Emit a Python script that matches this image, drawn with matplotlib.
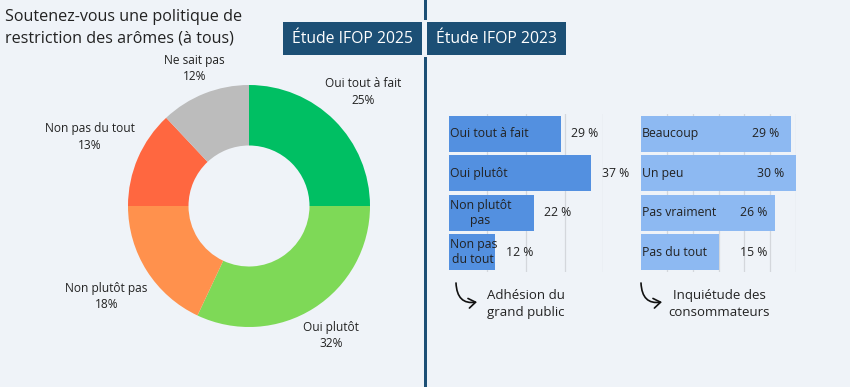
import matplotlib
matplotlib.use("Agg")
import matplotlib.pyplot as plt
import numpy as np
from matplotlib.patches import FancyArrowPatch, Rectangle
from matplotlib.path import Path

plt.rcParams['font.family'] = ['Open Sans', 'DejaVu Sans']

# ---- data ----
pie_labels = ["Oui tout à fait", "Oui plutôt", "Non plutôt pas", "Non pas du tout", "Ne sait pas"]
pie_values = [25, 32, 18, 13, 12]
pie_colors = ["#00bf63", "#7ed957", "#ff914d", "#ff6740", "#bcbcbc"]

adh_labels = ["Oui tout à fait", "Oui plutôt", "Non plutôt\npas", "Non pas\ndu tout"]
adh_values = [29, 37, 22, 12]

inq_labels = ["Beaucoup", "Un peu", "Pas vraiment", "Pas du tout"]
inq_values = [29, 30, 26, 15]

title = "Soutenez-vous une politique de\nrestriction des arômes (à tous)"
box1 = "Étude IFOP 2025"
box2 = "Étude IFOP 2023"
cap1 = "Adhésion du\ngrand public"
cap2 = "Inquiétude des\nconsommateurs"

BG = "#eff3f8"
DARK = "#1c4f75"
TXT = "#222222"
W, H = 850, 387

fig = plt.figure(figsize=(8.5, 3.87), dpi=100)
fig.patch.set_facecolor(BG)

def fx(x): return x / W
def fy(y): return 1 - y / H
def ax_px(x0, y0, x1, y1):
    return fig.add_axes([fx(x0), fy(y1), (x1 - x0) / W, (y1 - y0) / H])

# vertical divider
fig.add_artist(Rectangle((fx(424), 0), 3 / W, 1, transform=fig.transFigure,
                         color=DARK, lw=0, zorder=1))
# gap around boxes on divider
fig.add_artist(Rectangle((fx(422), fy(57)), 5 / W, 37 / H, transform=fig.transFigure,
                         color=BG, lw=0, zorder=2))
# header boxes
for (x0, x1, txt) in [(283, 422, box1), (427, 566, box2)]:
    fig.add_artist(Rectangle((fx(x0), fy(55)), (x1 - x0) / W, 33 / H,
                             transform=fig.transFigure, color=DARK, lw=0, zorder=3))
    fig.text(fx((x0 + x1) / 2), fy(39), txt, color="white", fontsize=11.3,
             ha="center", va="center", zorder=4)

fig.text(fx(5), fy(28), title, fontsize=11.6, color=TXT, ha="left", va="center", linespacing=1.45)

# ---- donut ----
axp = ax_px(128, 85, 370, 327)
axp.set_facecolor("none")
wedges, _ = axp.pie(pie_values, colors=pie_colors, startangle=90, counterclock=False,
                    radius=1, wedgeprops=dict(width=0.5, edgecolor="none"))
axp.set_xlim(-1, 1); axp.set_ylim(-1, 1)
axp.set_aspect("equal"); axp.axis("off")
for w, lab, v in zip(wedges, pie_labels, pie_values):
    ang = np.deg2rad((w.theta1 + w.theta2) / 2)
    r = 1.18 + 0.3 * np.cos(ang) ** 2
    axp.text(r * np.cos(ang), r * np.sin(ang), f"{lab}\n{v}%", ha="center", va="center",
             fontsize=8.6, color=TXT, linespacing=1.35, clip_on=False)

# ---- bar chart helper ----
def bars(x0, x1, xmax, step, labels, values, color, label_pos):
    ax = ax_px(x0, 114, x1, 272)
    ax.set_facecolor("none")
    y = np.arange(len(values))
    ax.barh(y, values, height=0.92, color=color, zorder=2)
    ax.set_xlim(0, xmax)
    ax.set_ylim(len(values) - 0.5, -0.5)
    for t in np.arange(step, xmax + 0.01, step):
        ax.axvline(t, color="#d4d7dc", lw=0.9, zorder=1)
    for s in ax.spines.values():
        s.set_visible(False)
    ax.set_xticks([]); ax.set_yticks([])
    for yi, lab, v in zip(y, labels, values):
        if "\n" in lab:
            ax.text(0.15, yi, lab, ha="left", va="center", fontsize=8.8, color=TXT,
                    multialignment="center", linespacing=1.2, zorder=3)
        else:
            ax.text(0.15, yi, lab, ha="left", va="center", fontsize=8.8, color=TXT, zorder=3)
        xp, ha = label_pos(v)
        ax.text(xp, yi, f"{v} %", ha=ha, va="center", fontsize=8.8, color=TXT,
                zorder=3, clip_on=False)
    return ax

bars(449, 603, 40, 10, adh_labels, adh_values, "#5390e0", lambda v: (v + 2.8, "left"))
bars(641, 796, 30, 5, inq_labels, inq_values, "#8db9f2", lambda v: (max(v - 2.2, 24.5), "right"))

# ---- captions with hooked arrows ----
for (ax0, tx, txt) in [(456, 526, cap1), (641, 719, cap2)]:
    verts = [(fx(ax0), fy(283)), (fx(ax0 + 1), fy(305)), (fx(ax0 + 21), fy(302))]
    path = Path(verts, [Path.MOVETO, Path.CURVE3, Path.CURVE3])
    arr = FancyArrowPatch(path=path, transform=fig.transFigure,
                          arrowstyle="->,head_length=5,head_width=3.5", color="#111111",
                          lw=1.2, mutation_scale=1)
    fig.add_artist(arr)
    fig.text(fx(tx), fy(304), txt, ha="center", va="center", fontsize=9.5, color=TXT,
             linespacing=1.35)

fig.savefig("out.png", dpi=100, facecolor=BG)
